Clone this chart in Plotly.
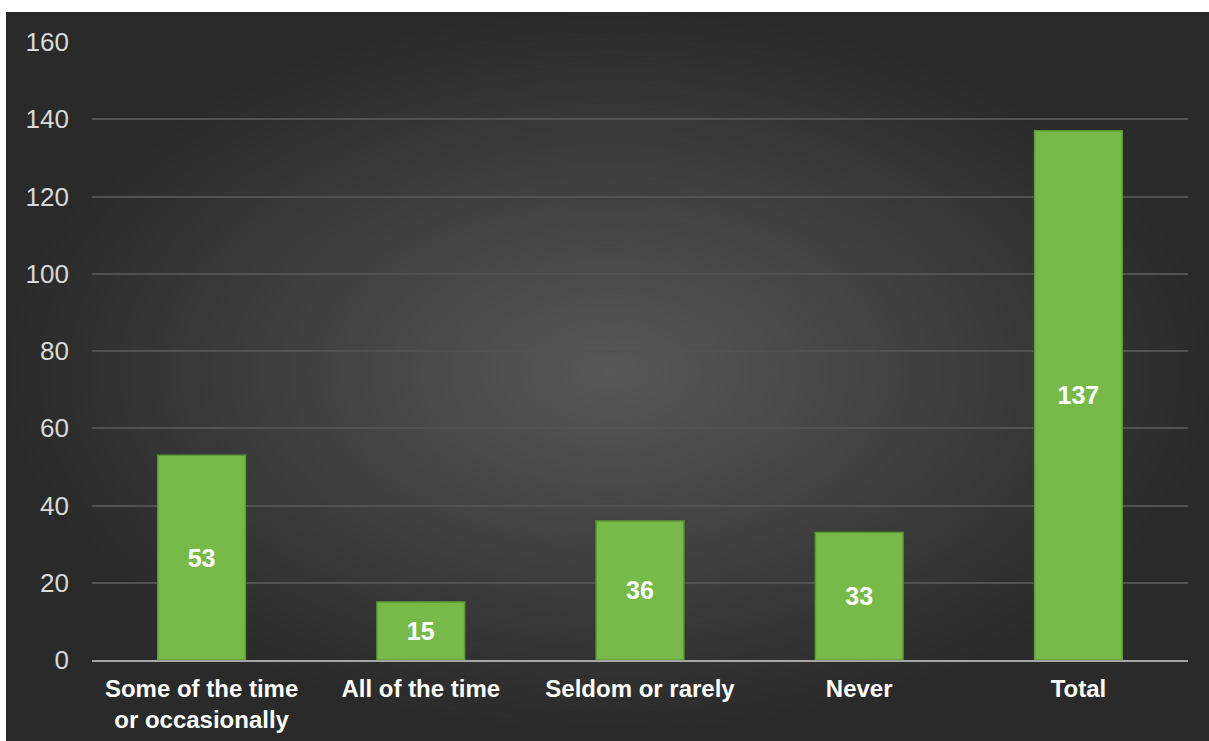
import plotly.graph_objects as go

categories = ["Some of the time<br>or occasionally", "All of the time", "Seldom or rarely", "Never", "Total"]
values = [53, 15, 36, 33, 137]
y_ticks = [0, 20, 40, 60, 80, 100, 120, 140, 160]

W, H = 1209, 741
L, R, T, B = 92, 21, 42, 81
PW, PH = W - L - R, H - T - B

def px(x):
    return (x - L) / PW

def py(y):
    return (H - B - y) / PH

fig = go.Figure()
fig.add_trace(go.Bar(
    x=categories, y=values,
    marker=dict(color="#78ba4a", line=dict(color="#5c9b32", width=1.5)),
    text=[str(v) for v in values],
    textposition="inside", insidetextanchor="middle",
    textfont=dict(family="Liberation Sans", size=25, color="white", weight="bold"),
    cliponaxis=False,
))

shapes = []
# dark background rect
shapes.append(dict(type="rect", xref="paper", yref="paper", x0=px(6), x1=px(1209), y0=py(741), y1=py(12),
                   fillcolor="#2a2a2a", line=dict(width=0), layer="below"))
# radial gradient approximation (kept inside the dark rect)
cx, cy = 610, 372
rxm, rym = 600, 358
n = 60
c0, c1 = 0x2a, 0x57
for i in range(n):
    f = 1 - i / n
    rx, ry = rxm * f, rym * f
    c = int(round(c0 + (c1 - c0) * (i + 1) / n))
    col = "#%02x%02x%02x" % (c, c, c)
    shapes.append(dict(type="circle", xref="paper", yref="paper",
                       x0=px(cx - rx), x1=px(cx + rx), y0=py(cy + ry), y1=py(cy - ry),
                       fillcolor=col, line=dict(width=0), layer="below"))

fig.update_layout(
    width=W, height=H,
    margin=dict(l=L, r=R, t=T, b=B, pad=0, autoexpand=False),
    paper_bgcolor="white",
    plot_bgcolor="rgba(0,0,0,0)",
    showlegend=False,
    bargap=0.6,
    shapes=shapes,
    xaxis=dict(
        automargin=False,
        showgrid=False, showline=True, linecolor="#a6a6a6", linewidth=2,
        tickfont=dict(family="Liberation Sans", size=24, color="white", weight="bold"),
        ticks="", ticklabelstandoff=6,
    ),
    yaxis=dict(
        automargin=False,
        range=[0, 160], tickvals=y_ticks, showgrid=True, gridcolor="#525252", gridwidth=1.5,
        zeroline=False, showline=False, ticks="",
        tickfont=dict(family="Liberation Sans", size=26, color="#d9d9d9"),
        ticklabelstandoff=22,
    ),
)

fig.write_html("out.html", config={"displayModeBar": False},
               post_script="document.body.style.margin='0px';document.body.style.overflow='hidden';")
